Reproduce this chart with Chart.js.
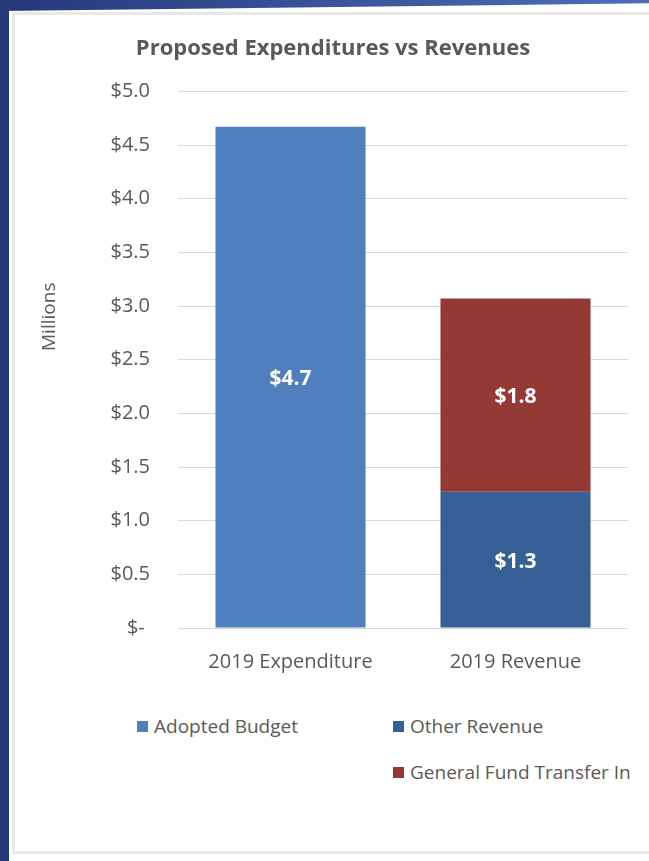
<!DOCTYPE html>
<html>
<head>
<meta charset="utf-8">
<script src="https://cdn.jsdelivr.net/npm/chart.js@4.4.0/dist/chart.umd.min.js"></script>
<style>
  html, body { margin: 0; padding: 0; }
  body { width: 649px; height: 861px; position: relative; overflow: hidden; background: #fff; font-family: "Open Sans", sans-serif; }
  #strip-left { position: absolute; left: 0; top: 0; width: 9px; height: 861px; background: #24387a; }
  #strip-top { position: absolute; left: 0; top: 0; width: 649px; height: 11px; background: linear-gradient(90deg, #24387a, #4d6fb8); clip-path: polygon(0 0, 100% 0, 100% 30%, 0 100%); }
  #card { position: absolute; left: 12px; top: 12px; width: 680px; height: 842px; border: 3px solid #e8e8e8; box-sizing: border-box; }
  #chart-box { position: absolute; left: 12px; top: 0; width: 642px; height: 690px; }
  #legend { position: absolute; left: 137px; top: 715px; display: grid; grid-template-columns: 256px auto; row-gap: 24px; color: #595959; font-size: 19px; }
  .item { display: flex; align-items: center; height: 22px; white-space: nowrap; }
  .swatch { width: 11px; height: 11px; margin-right: 6px; }
</style>
</head>
<body>
<div id="strip-left"></div>
<div id="strip-top"></div>
<div id="card"></div>
<div id="chart-box"><canvas id="chart"></canvas></div>
<div id="legend"></div>

<script>
const categories = ['2019 Expenditure', '2019 Revenue'];
const seriesNames = ['Adopted Budget', 'Other Revenue', 'General Fund Transfer In'];
const seriesColors = ['#4f80bd', '#365f95', '#953935'];
const adoptedBudget = [4.67, null];
const otherRevenue = [null, 1.27];
const generalFund = [null, 1.80];
const yTicks = [0, 0.5, 1, 1.5, 2, 2.5, 3, 3.5, 4, 4.5, 5];
const yTitle = 'Millions';

const GRAY = '#595959';
const FONT = '"Open Sans", sans-serif';

// white value labels in the middle of each bar segment
const valueLabels = {
  id: 'valueLabels',
  afterDatasetsDraw(chart) {
    const { ctx } = chart;
    ctx.save();
    ctx.font = 'bold 21px ' + FONT;
    ctx.fillStyle = '#fff';
    ctx.textAlign = 'center';
    ctx.textBaseline = 'middle';
    chart.data.datasets.forEach((ds, i) => {
      chart.getDatasetMeta(i).data.forEach((bar, j) => {
        const v = ds.data[j];
        if (v == null) return;
        const { x, y, base } = bar.getProps(['x', 'y', 'base'], true);
        ctx.fillText('$' + v.toFixed(1), x, (y + base) / 2 + 2);
      });
    });
    ctx.restore();
  },
};

// axis title sits a bit above the middle of the axis in the original
const axisTitle = {
  id: 'axisTitle',
  afterDraw(chart) {
    const { ctx, chartArea } = chart;
    ctx.save();
    ctx.font = '19px ' + FONT;
    ctx.fillStyle = GRAY;
    ctx.textAlign = 'center';
    ctx.textBaseline = 'middle';
    ctx.translate(38, chartArea.top + chartArea.height * 0.42);
    ctx.rotate(-Math.PI / 2);
    ctx.fillText(yTitle, 0, 0);
    ctx.restore();
  },
};

const values = [adoptedBudget, otherRevenue, generalFund];

const chart = new Chart(document.getElementById('chart'), {
  type: 'bar',
  data: {
    labels: categories,
    datasets: seriesNames.map((name, i) => ({
      label: name,
      data: values[i],
      backgroundColor: seriesColors[i],
      stack: 'all',
      categoryPercentage: 1,
      barPercentage: 0.667,
    })),
  },
  options: {
    responsive: true,
    maintainAspectRatio: false,
    animation: false,
    layout: { padding: { left: 26, right: 26, top: 0, bottom: 0 } },
    plugins: {
      legend: { display: false },
      tooltip: { enabled: false },
      title: {
        display: true,
        text: 'Proposed Expenditures vs Revenues',
        color: GRAY,
        font: { family: FONT, size: 22, weight: 'bold' },
        padding: { top: 36, bottom: 29 },
      },
    },
    scales: {
      x: {
        stacked: true,
        grid: { display: false },
        border: { display: false },
        ticks: { color: GRAY, font: { family: FONT, size: 20 }, padding: 14 },
        afterFit: (s) => { s.height = 62; },
      },
      y: {
        stacked: true,
        min: 0,
        max: 5,
        afterBuildTicks: (s) => { s.ticks = yTicks.map((v) => ({ value: v })); },
        grid: { color: '#d9d9d9', drawTicks: false },
        border: { display: false },
        ticks: {
          color: GRAY,
          font: { family: FONT, size: 20 },
          padding: 28,
          callback: (v) => (v === 0 ? '$- ' : '$' + v.toFixed(1)),
        },
        afterFit: (s) => { s.width = 140; },
      },
    },
  },
  plugins: [valueLabels, axisTitle],
});

const legend = document.getElementById('legend');
seriesNames.forEach((name, i) => {
  const item = document.createElement('div');
  item.className = 'item';
  item.style.gridColumn = i === 0 ? '1' : '2';
  item.style.gridRow = i === 2 ? '2' : '1';
  const sw = document.createElement('span');
  sw.className = 'swatch';
  sw.style.background = seriesColors[i];
  item.appendChild(sw);
  item.appendChild(document.createTextNode(name));
  legend.appendChild(item);
});
</script>
</body>
</html>
